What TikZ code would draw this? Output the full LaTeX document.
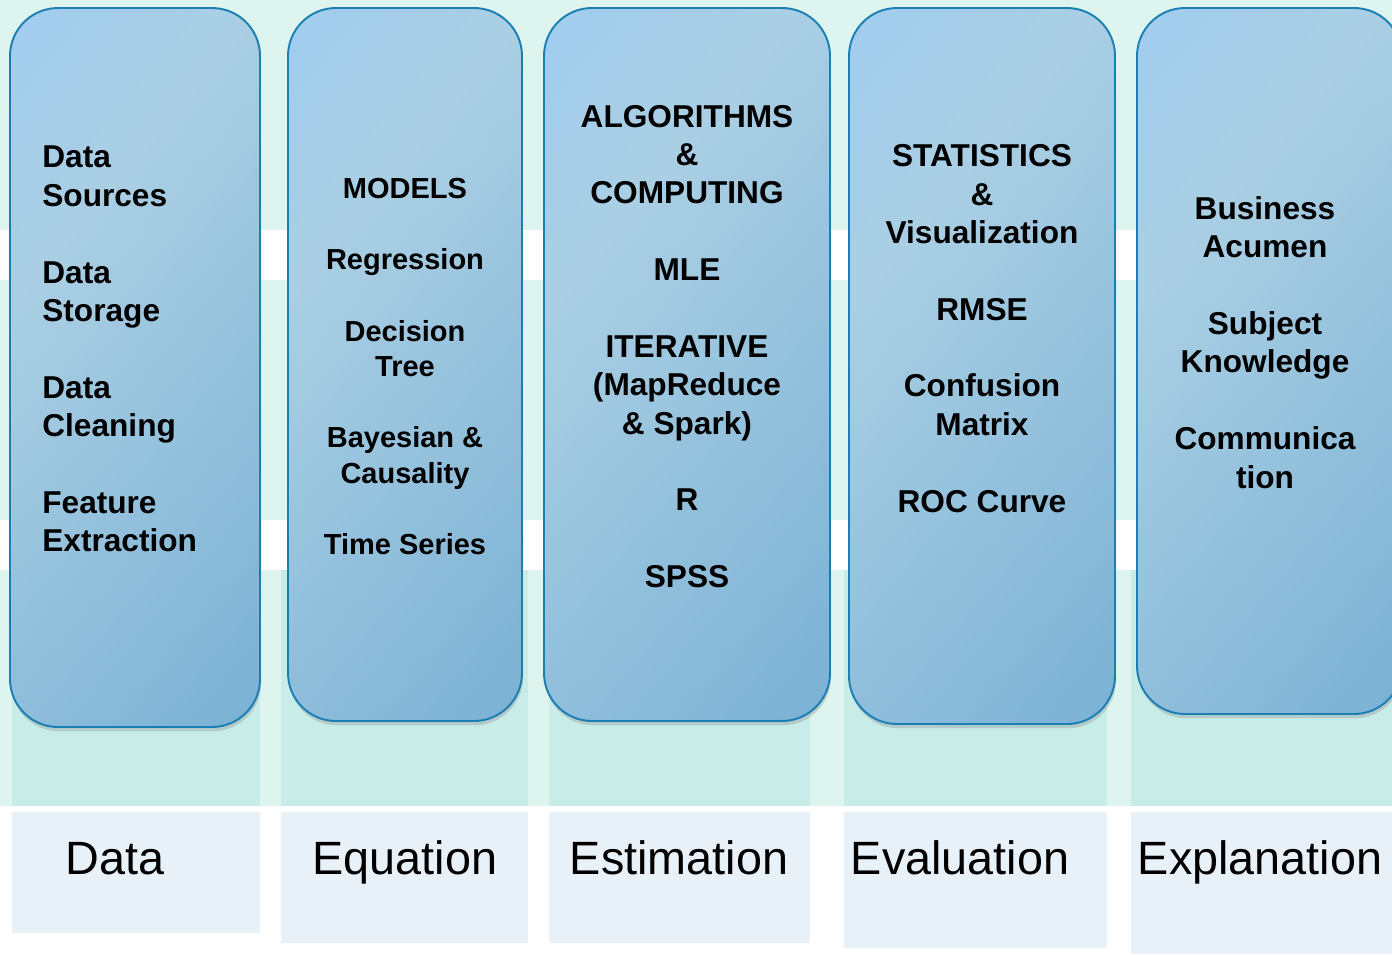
\documentclass[tikz,border=0pt]{standalone}
\usepackage{fontspec}
\setmainfont{Liberation Sans}
\usetikzlibrary{shadows}

\definecolor{mintbg}{HTML}{DDF5EE}
\definecolor{colcyan}{HTML}{C8ECE8}
\definecolor{labelbg}{HTML}{E9F1F8}
\definecolor{boxedge}{HTML}{1B7FB4}
\definecolor{gradTL}{HTML}{9CCBF8}
\definecolor{gradMid}{HTML}{AACFE4}
\definecolor{gradBR}{HTML}{6CA8CF}
\pgfdeclarehorizontalshading{colgrad}{100bp}{color(0bp)=(gradTL); color(35bp)=(gradMid); color(100bp)=(gradBR)}

\tikzset{
    stagebox/.style={draw=boxedge, line width=1.1pt, rounded corners=0.96cm,
        shade, shading=colgrad, shading angle=-40,
        drop shadow={opacity=0.3, shadow xshift=0.6pt, shadow yshift=-2.4pt}},
    stagetext/.style={font=\bfseries\fontsize{18}{21.8}\selectfont, align=center, inner sep=0pt},
    labeltext/.style={font=\fontsize{26.6}{30}\selectfont, anchor=base, inner sep=0pt}
}

\begin{document}
\begin{tikzpicture}[x=0.02cm, y=-0.02cm]
    \useasboundingbox (0,0) rectangle (1392,954);

    % background bands
    \fill[white] (0,0) rectangle (1392,954);
    \fill[mintbg] (0,0) rectangle (1392,806);
    \fill[white] (0,230) rectangle (1392,280);
    \fill[white] (0,520) rectangle (1392,570);

    % column strips and label boxes
    \fill[colcyan] (12,570) rectangle (260,806);
    \fill[colcyan] (281,570) rectangle (528,806);
    \fill[colcyan] (549,570) rectangle (810,806);
    \fill[colcyan] (844,570) rectangle (1107,806);
    \fill[colcyan] (1131,570) rectangle (1392,806);

    \fill[labelbg] (12,812) rectangle (260,933);
    \fill[labelbg] (281,812) rectangle (528,943);
    \fill[labelbg] (549,812) rectangle (810,943);
    \fill[labelbg] (844,812) rectangle (1107,948);
    \fill[labelbg] (1131,812) rectangle (1392,954);

    % rounded stage boxes
    \path[stagebox] (10,8) rectangle (260,727);
    \path[stagebox] (288,8) rectangle (522,721);
    \path[stagebox] (544,8) rectangle (830,721);
    \path[stagebox] (849,8) rectangle (1115,724);
    \path[stagebox] (1137,8) rectangle (1402,714);

    % box contents
    \node[stagetext, align=left, anchor=west] (datatext) at (42,349)
        {Data\\Sources\\[0.77cm]Data\\Storage\\[0.77cm]Data\\Cleaning\\[0.77cm]Feature\\Extraction};
    \node[stagetext, font=\bfseries\fontsize{16.5}{20.1}\selectfont] (modeltext) at (405,366.5)
        {MODELS\\[0.72cm]Regression\\[0.72cm]Decision\\Tree\\[0.72cm]Bayesian \&\\Causality\\[0.72cm]Time Series};
    \node[stagetext] (algotext) at (687,346.5)
        {ALGORITHMS\\\&\\COMPUTING\\[0.77cm]MLE\\[0.77cm]ITERATIVE\\(MapReduce\\\& Spark)\\[0.77cm]R\\[0.77cm]SPSS};
    \node[stagetext] (stattext) at (982,328.5)
        {STATISTICS\\\&\\Visualization\\[0.77cm]RMSE\\[0.77cm]Confusion\\Matrix\\[0.77cm]ROC Curve};
    \node[stagetext] (bizztext) at (1265,342.5)
        {Business\\Acumen\\[0.77cm]Subject\\Knowledge\\[0.77cm]Communica\\tion};

    % stage labels
    \node[labeltext] (lbldata) at (115,874) {Data};
    \node[labeltext] (lblequation) at (405,874) {Equation};
    \node[labeltext] (lblestimation) at (679,874) {Estimation};
    \node[labeltext] (lblevaluation) at (960,874) {Evaluation};
    \node[labeltext] (lblexplanation) at (1260,874) {Explanation};
\end{tikzpicture}
\end{document}
